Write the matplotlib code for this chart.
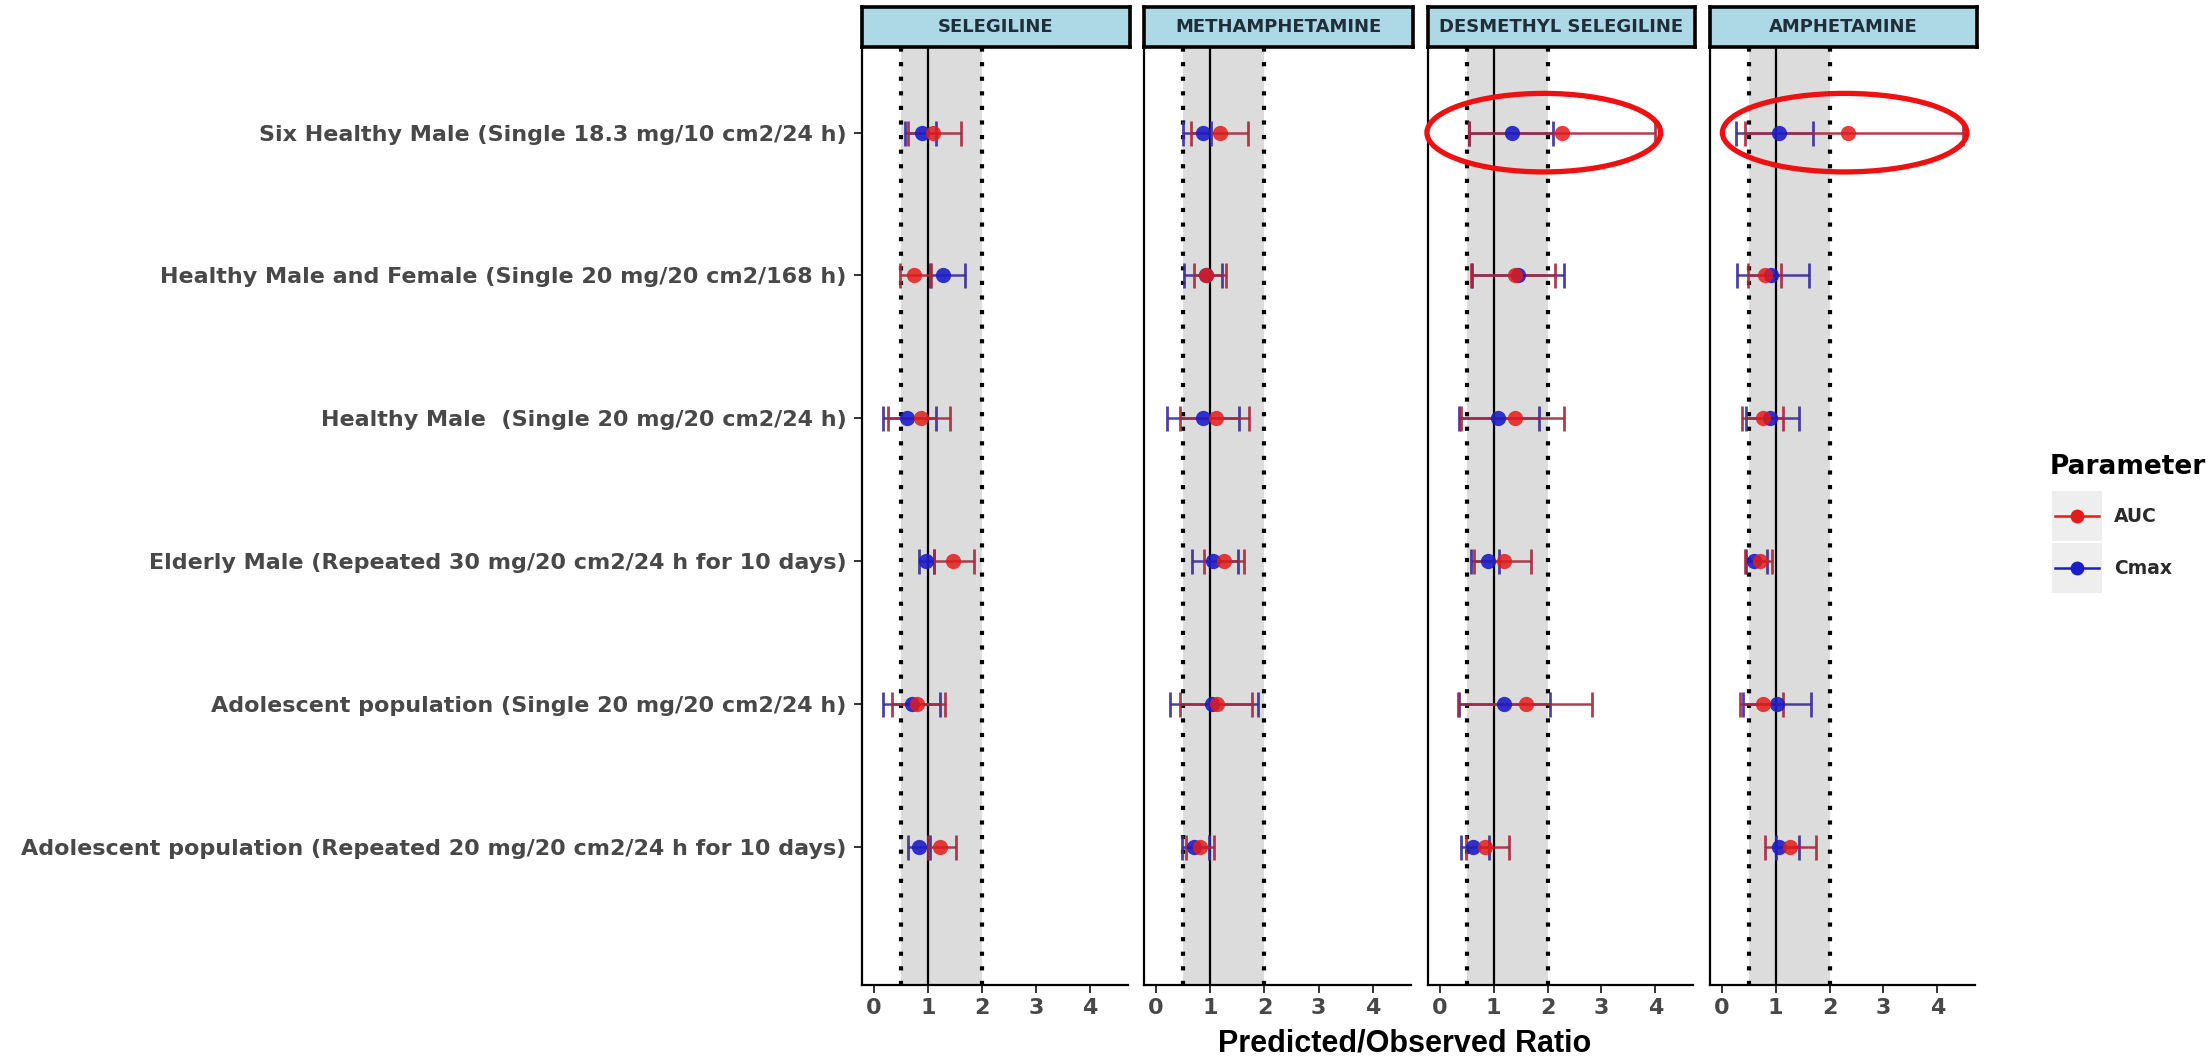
import matplotlib
matplotlib.use("Agg")
import matplotlib.pyplot as plt
import numpy as np
from matplotlib.patches import Ellipse, Rectangle
from matplotlib.lines import Line2D

plt.rcParams['font.family'] = ['DejaVu Sans']

# ---- data -------------------------------------------------------------
studies = [
    "Six Healthy Male (Single 18.3 mg/10 cm2/24 h)",
    "Healthy Male and Female (Single 20 mg/20 cm2/168 h)",
    "Healthy Male  (Single 20 mg/20 cm2/24 h)",
    "Elderly Male (Repeated 30 mg/20 cm2/24 h for 10 days)",
    "Adolescent population (Single 20 mg/20 cm2/24 h)",
    "Adolescent population (Repeated 20 mg/20 cm2/24 h for 10 days)",
]
analytes = ["SELEGILINE", "METHAMPHETAMINE", "DESMETHYL SELEGILINE", "AMPHETAMINE"]

# AUC predicted/observed ratio with lower / upper limits, per analyte
auc_ratio = {
    "SELEGILINE":           [1.10, 0.75, 0.88, 1.47, 0.80, 1.22],
    "METHAMPHETAMINE":      [1.18, 0.93, 1.10, 1.26, 1.12, 0.81],
    "DESMETHYL SELEGILINE": [2.27, 1.40, 1.39, 1.20, 1.60, 0.83],
    "AMPHETAMINE":          [2.35, 0.80, 0.77, 0.70, 0.76, 1.26],
}
auc_low = {
    "SELEGILINE":           [0.63, 0.49, 0.27, 1.12, 0.33, 1.00],
    "METHAMPHETAMINE":      [0.65, 0.70, 0.45, 0.89, 0.45, 0.55],
    "DESMETHYL SELEGILINE": [0.55, 0.58, 0.40, 0.64, 0.33, 0.49],
    "AMPHETAMINE":          [0.43, 0.49, 0.38, 0.43, 0.33, 0.80],
}
auc_high = {
    "SELEGILINE":           [1.61, 1.05, 1.40, 1.85, 1.31, 1.51],
    "METHAMPHETAMINE":      [1.69, 1.29, 1.72, 1.63, 1.77, 1.07],
    "DESMETHYL SELEGILINE": [4.00, 2.13, 2.31, 1.69, 2.83, 1.28],
    "AMPHETAMINE":          [4.47, 1.09, 1.13, 0.93, 1.14, 1.75],
}

# Cmax predicted/observed ratio with lower / upper limits, per analyte
cmax_ratio = {
    "SELEGILINE":           [0.89, 1.27, 0.61, 0.97, 0.70, 0.83],
    "METHAMPHETAMINE":      [0.87, 0.92, 0.87, 1.06, 1.04, 0.70],
    "DESMETHYL SELEGILINE": [1.34, 1.45, 1.08, 0.89, 1.19, 0.61],
    "AMPHETAMINE":          [1.06, 0.92, 0.89, 0.60, 1.02, 1.07],
}
cmax_low = {
    "SELEGILINE":           [0.57, 1.04, 0.17, 0.83, 0.16, 0.63],
    "METHAMPHETAMINE":      [0.50, 0.52, 0.20, 0.67, 0.25, 0.48],
    "DESMETHYL SELEGILINE": [0.55, 0.60, 0.35, 0.58, 0.36, 0.40],
    "AMPHETAMINE":          [0.27, 0.29, 0.45, 0.45, 0.40, 1.00],
}
cmax_high = {
    "SELEGILINE":           [1.15, 1.68, 1.14, 1.12, 1.23, 1.04],
    "METHAMPHETAMINE":      [1.02, 1.21, 1.53, 1.51, 1.88, 0.98],
    "DESMETHYL SELEGILINE": [2.10, 2.31, 1.85, 1.10, 2.05, 0.92],
    "AMPHETAMINE":          [1.69, 1.61, 1.44, 0.83, 1.65, 1.44],
}

x_ticks = [0, 1, 2, 3, 4]
acceptance_band = (0.5, 2.0)
unity = 1.0

# highlighted outlier studies (analyte -> study index)
highlight = {"DESMETHYL SELEGILINE": 0, "AMPHETAMINE": 0}

# ---- styling ----------------------------------------------------------
W, H = 2212, 1057
DPI = 100
AUC_COL, AUC_BAR = "#e31b1b", "#a8283c"
CMAX_COL, CMAX_BAR = "#1c1cc8", "#3a2c98"
TXT_GREY = "#484848"

fig = plt.figure(figsize=(W / DPI, H / DPI), dpi=DPI)
fig.patch.set_facecolor("white")


def frac(x0, y0, x1, y1):
    """pixel box (top-left origin) -> figure fraction rect"""
    return [x0 / W, 1 - y1 / H, (x1 - x0) / W, (y1 - y0) / H]


panel_x = [(862, 1128), (1144, 1411), (1428, 1693), (1710, 1975)]
panel_top, panel_bottom = 47, 985
strip_top = 7

n = len(studies)
ypos = np.arange(n, 0, -1)  # top study drawn highest

axes = []
for k, (name, (x0, x1)) in enumerate(zip(analytes, panel_x)):
    ax = fig.add_axes(frac(x0, panel_top, x1, panel_bottom))
    axes.append(ax)
    ax.set_xlim(-0.22, 4.70)
    ax.set_ylim(0.03, n + 0.6)

    ax.axvspan(*acceptance_band, color="#dcdcdc", zorder=0, lw=0)
    for xv in acceptance_band:
        ax.axvline(xv, color="black", lw=3, linestyle=(0, (1, 2.5)),
                   dash_capstyle="butt", zorder=1)
    ax.axvline(unity, color="black", lw=1.6, zorder=1)

    a, al, ah = (np.array(auc_ratio[name]), np.array(auc_low[name]),
                 np.array(auc_high[name]))
    c, cl, ch = (np.array(cmax_ratio[name]), np.array(cmax_low[name]),
                 np.array(cmax_high[name]))

    ax.errorbar(c, ypos, xerr=[c - cl, ch - c], fmt="none", ecolor=CMAX_BAR,
                elinewidth=1.8, capsize=9, capthick=2, alpha=0.9, zorder=3)
    ax.errorbar(a, ypos, xerr=[a - al, ah - a], fmt="none", ecolor=AUC_BAR,
                elinewidth=1.8, capsize=9, capthick=2, alpha=0.9, zorder=3)
    ax.plot(c, ypos, "o", color=CMAX_COL, ms=11, alpha=0.9, mec="none", zorder=4)
    ax.plot(a, ypos, "o", color=AUC_COL, ms=11, alpha=0.85, mec="none", zorder=5)

    for s in ("top", "right"):
        ax.spines[s].set_visible(False)
    for s in ("left", "bottom"):
        ax.spines[s].set_linewidth(1.6)
        ax.spines[s].set_color("black")

    ax.set_xticks(x_ticks)
    ax.set_xticklabels([str(t) for t in x_ticks], fontsize=16,
                       fontweight="bold", color=TXT_GREY)
    ax.tick_params(axis="x", length=6, width=1.4, pad=3, color="#333333")

    if k == 0:
        ax.set_yticks(ypos)
        ax.set_yticklabels(studies, fontsize=16, fontweight="bold",
                           color=TXT_GREY)
        ax.tick_params(axis="y", length=6, width=1.4, pad=5, color="#333333")
    else:
        ax.set_yticks([])

    # facet strip
    sax = fig.add_axes(frac(x0, strip_top, x1 + 2, panel_top))
    sax.set_facecolor("#add8e6")
    sax.set_xticks([])
    sax.set_yticks([])
    for s in sax.spines.values():
        s.set_linewidth(2.6)
        s.set_color("black")
    sax.text(0.5, 0.5, name, ha="center", va="center", fontsize=13,
             fontweight="bold", color="#1e2e3a", transform=sax.transAxes)

    if name in highlight:
        i = highlight[name]
        cx = 1.93 if name == "DESMETHYL SELEGILINE" else 2.28
        wd = 4.34 if name == "DESMETHYL SELEGILINE" else 4.54
        ax.add_patch(Ellipse((cx, ypos[i]), wd, 0.55, fill=False,
                             ec="#ee1111", lw=3.8, clip_on=False, zorder=6))

fig.text(1405 / W, 1 - 1043 / H, "Predicted/Observed Ratio", ha="center",
         va="center", fontsize=22, fontweight="bold", color="black",
         family="Liberation Sans")

# legend
lax = fig.add_axes(frac(2030, 430, 2212, 610))
lax.set_xlim(2030, 2212)
lax.set_ylim(610, 430)
lax.axis("off")
lax.text(2050, 467, "Parameter", ha="left", va="center", fontsize=19,
         fontweight="bold", color="black")
for label, col, bar, yc in (("AUC", AUC_COL, AUC_BAR, 516),
                            ("Cmax", CMAX_COL, CMAX_BAR, 568)):
    lax.add_patch(Rectangle((2052, yc - 25), 50, 50, color="#eeeeee", lw=0))
    lax.add_line(Line2D([2055, 2099], [yc, yc], color=col, lw=1.8))
    lax.plot([2077], [yc], "o", color=col, ms=10, mec="none")
    lax.text(2114, yc, label, ha="left", va="center", fontsize=13.5,
             fontweight="bold", color="#2a2a2a")

fig.savefig("out.png", dpi=DPI)
